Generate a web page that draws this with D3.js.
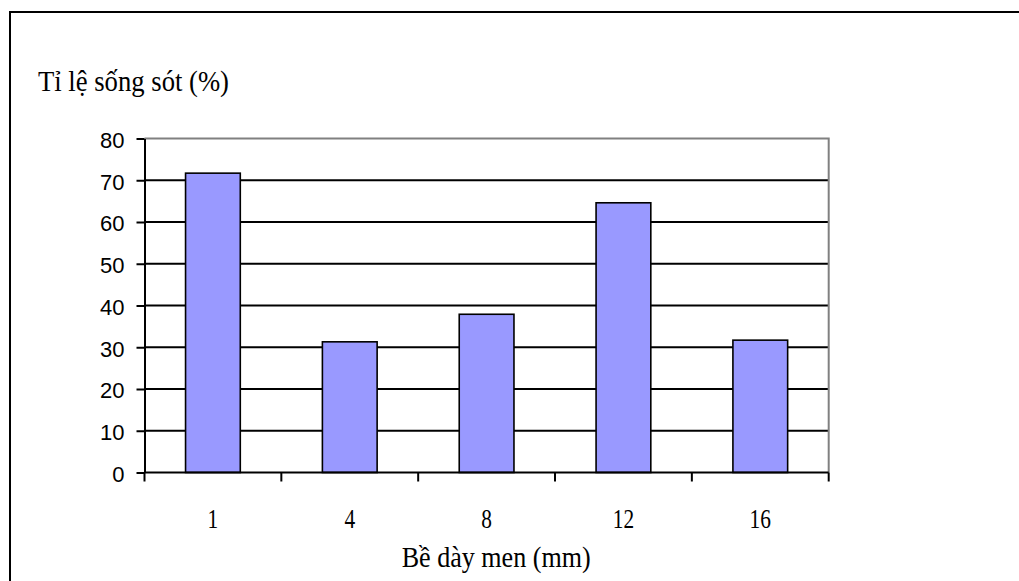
<!DOCTYPE html>
<html>
<head>
<meta charset="utf-8">
<script src="https://cdn.jsdelivr.net/npm/d3@7"></script>
<style>
  body { margin: 0; background: #fff; }
</style>
</head>
<body>
<div id="chart"></div>
<script>
// data
var categories = ["1", "4", "8", "12", "16"];
var survival = [71.7, 31.3, 37.9, 64.6, 31.7];
var yTicks = [0, 10, 20, 30, 40, 50, 60, 70, 80];

function draw_chart() {
  var width = 1019, height = 581;
  var left = 144.5, right = 828.7, top = 138.5, bottom = 472.5;
  var serif = "Liberation Serif, Times New Roman, serif";

  const svg = d3.select("div#chart")
    .append("svg")
    .attr("width", width)
    .attr("height", height);

  // outer chart frame (runs off the right and bottom edges)
  svg.append("rect")
    .attr("x", 10).attr("y", 12)
    .attr("width", 1030).attr("height", 600)
    .attr("fill", "#fff")
    .attr("stroke", "#000")
    .attr("stroke-width", 2);

  const x = d3.scaleBand()
    .domain(categories)
    .range([left, right])
    .paddingInner(0.6)
    .paddingOuter(0.3);

  const y = d3.scaleLinear()
    .domain([0, 80])
    .range([bottom, top]);

  // grid lines
  svg.append("g")
    .selectAll("line")
    .data(yTicks.filter(d => d > 0 && d < 80))
    .join("line")
    .attr("x1", left).attr("x2", right)
    .attr("y1", d => y(d)).attr("y2", d => y(d))
    .attr("stroke", "#000")
    .attr("stroke-width", 2);

  // plot area border (top + right are grey)
  svg.append("path")
    .attr("d", `M${left},${top}H${right}V${bottom}`)
    .attr("fill", "none")
    .attr("stroke", "#808080")
    .attr("stroke-width", 2);

  // bars
  svg.append("g")
    .selectAll("rect")
    .data(survival)
    .join("rect")
    .attr("x", (d, i) => x(categories[i]))
    .attr("y", d => y(d))
    .attr("width", x.bandwidth())
    .attr("height", d => y(0) - y(d))
    .attr("fill", "#9999FF")
    .attr("stroke", "#000")
    .attr("stroke-width", 1.6);

  // y axis
  const yAxis = svg.append("g")
    .attr("transform", `translate(${left},0)`)
    .call(d3.axisLeft(y).tickValues(yTicks).tickSize(8).tickPadding(12).tickSizeOuter(0));
  yAxis.select(".domain").attr("stroke", "#000").attr("stroke-width", 2);
  yAxis.selectAll(".tick line").attr("stroke", "#000").attr("stroke-width", 2);
  yAxis.selectAll(".tick text")
    .attr("font-family", "Liberation Sans, Arial, sans-serif")
    .attr("font-size", 22)
    .attr("fill", "#000")
    .attr("dy", "0.4em");

  // x axis: ticks sit between the categories
  const step = x.step();
  const bounds = d3.range(categories.length + 1).map(i => x(categories[0]) - x.paddingOuter() * step + i * step);
  svg.append("line")
    .attr("x1", left).attr("x2", right)
    .attr("y1", bottom).attr("y2", bottom)
    .attr("stroke", "#000").attr("stroke-width", 2);
  svg.append("g")
    .selectAll("line")
    .data(bounds)
    .join("line")
    .attr("x1", d => d).attr("x2", d => d)
    .attr("y1", bottom).attr("y2", bottom + 9)
    .attr("stroke", "#000").attr("stroke-width", 2);

  // category labels, narrow serif like the original
  svg.append("g")
    .selectAll("text")
    .data(categories)
    .join("text")
    .attr("x", d => x(d) + x.bandwidth() / 2)
    .attr("y", 528)
    .attr("text-anchor", "middle")
    .attr("font-family", serif)
    .attr("font-size", 27)
    .attr("fill", "#000")
    .text(d => d)
    .each(function() {
      const w = this.getComputedTextLength();
      d3.select(this).attr("textLength", w * 0.79).attr("lengthAdjust", "spacingAndGlyphs");
    });

  // titles
  svg.append("text")
    .attr("x", 38).attr("y", 91)
    .attr("font-family", serif)
    .attr("font-size", 29)
    .attr("textLength", 191)
    .attr("lengthAdjust", "spacingAndGlyphs")
    .attr("fill", "#000")
    .text("Tỉ lệ sống sót (%)");

  svg.append("text")
    .attr("x", 401.7).attr("y", 567)
    .attr("font-family", serif)
    .attr("font-size", 30)
    .attr("textLength", 189)
    .attr("lengthAdjust", "spacingAndGlyphs")
    .attr("fill", "#000")
    .text("Bề dày men (mm)");

  return svg.node();
}
draw_chart();
</script>
</body>
</html>
